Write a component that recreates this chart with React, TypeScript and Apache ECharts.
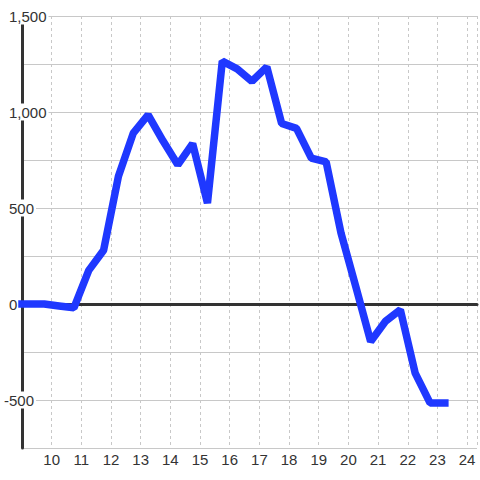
import React, { useEffect, useRef } from 'react';
import * as echarts from 'echarts';

const hours = [9, 9.25, 9.75, 10.25, 10.75, 11.25, 11.75, 12.25, 12.75, 13.25, 13.75, 14.25, 14.75, 15.25, 15.75, 16.25, 16.75, 17.25, 17.75, 18.25, 18.75, 19.25, 19.75, 20.25, 20.75, 21.25, 21.75, 22.25, 22.75, 23.25];
const values = [0, 0, 0, -10, -20, 175, 280, 665, 890, 985, 850, 725, 835, 525, 1265, 1225, 1160, 1235, 940, 915, 760, 740, 370, 90, -195, -90, -30, -360, -515, -515];

const xMin = 9;
const xMax = 24 + 1 / 3;
const yMin = -750;
const yMax = 1500;
const yStep = 250;
const yLabelStep = 500;

const FONT = '"Liberation Sans", Arial, sans-serif';
const TEXT = '#333';

export default function App() {
  const ref = useRef<HTMLDivElement>(null);
  useEffect(() => {
    if (!ref.current) return;
    const chart = echarts.init(ref.current, null, { renderer: 'svg' });
    const data = hours.map((h, i) => [h, values[i]]);
    chart.setOption({
      animation: false,
      backgroundColor: '#fff',
      grid: { left: 20, right: 0, top: 16, bottom: 32 },
      xAxis: [
        {
          type: 'value',
          min: xMin,
          max: xMax,
          interval: 1,
          axisLine: { show: false },
          axisTick: { show: false },
          axisLabel: {
            margin: 4,
            color: TEXT,
            fontSize: 15,
            fontFamily: FONT,
            formatter: (v: number) => (Number.isInteger(v) && v > xMin ? String(v) : ''),
          },
          splitLine: { show: true, lineStyle: { color: '#c8c8c8', type: [3, 3], width: 1 } },
        },
        {
          type: 'value',
          min: xMin,
          max: xMax,
          interval: 1,
          position: 'bottom',
          axisLine: { show: true, onZero: true, onZeroAxisIndex: 0, lineStyle: { color: '#333', width: 3 } },
          axisTick: { show: false },
          axisLabel: { show: false },
          splitLine: { show: false },
        },
      ],
      yAxis: {
        type: 'value',
        min: yMin,
        max: yMax,
        interval: yStep,
        axisLine: { show: true, onZero: false, lineStyle: { color: '#333', width: 3 } },
        axisTick: { show: false },
        axisLabel: {
          margin: 19,
          align: 'left',
          formatter: (v: number) => {
            if (v % yLabelStep !== 0) return '';
            const s = v.toLocaleString('en-US');
            return v < 0 ? `{n|${s}}` : `{p|${s}}`;
          },
          rich: {
            p: { backgroundColor: '#fff', padding: [1, 2, 1, 6], color: TEXT, fontSize: 15, fontFamily: FONT },
            n: { backgroundColor: '#fff', padding: [1, 2, 1, 1], color: TEXT, fontSize: 15, fontFamily: FONT },
          },
        },
        splitLine: { show: true, lineStyle: { color: '#c8c8c8', width: 1 } },
      },
      series: [
        {
          type: 'line',
          data,
          symbol: 'none',
          lineStyle: { color: '#1f38ff', width: 7.5, cap: 'square' },
          itemStyle: { color: '#1f38ff' },
          z: 5,
        },
      ],
    });
    return () => chart.dispose();
  }, []);
  return <div ref={ref} style={{ width: 480, height: 480, position: 'absolute', left: 0, top: 0 }} />;
}
